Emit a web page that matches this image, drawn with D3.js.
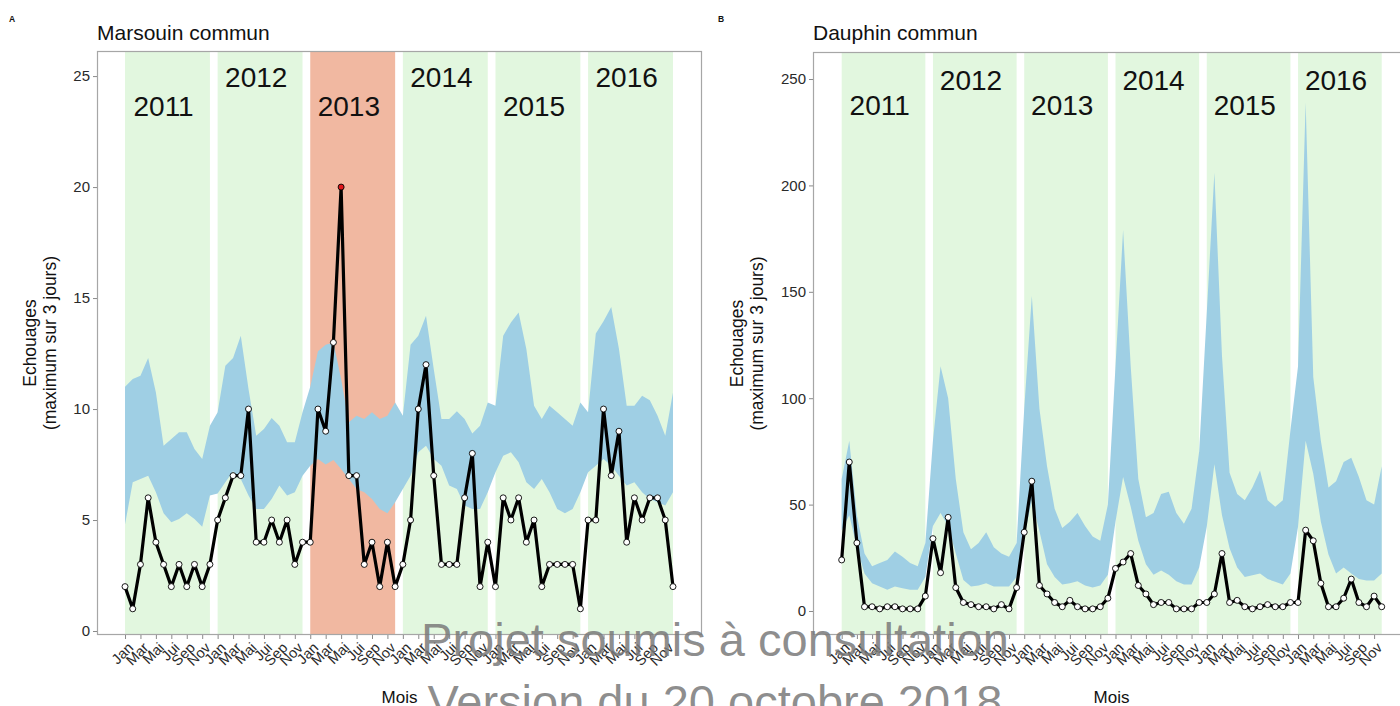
<!DOCTYPE html>
<html>
<head>
<meta charset="utf-8">
<script src="https://cdn.jsdelivr.net/npm/d3@7"></script>
<style>
  body { margin: 0; background: #fff; }
  svg { display: block; }
  text { font-family: "Liberation Sans", Arial, sans-serif; }
</style>
</head>
<body>
<svg id="chart" width="1400" height="706"></svg>
<script>
// ---------------- DATA ----------------
const years = [2011, 2012, 2013, 2014, 2015, 2016];
const tickMonthLabels = ["Jan", "Mar", "Mai", "Jui", "Sep", "Nov"];

// Panel A : Marsouin commun (monthly values Jan 2011 .. Dec 2016)
const porpoiseCounts = [
  2, 1, 3, 6, 4, 3, 2, 3, 2, 3, 2, 3,
  5, 6, 7, 7, 10, 4, 4, 5, 4, 5, 3, 4,
  4, 10, 9, 13, 20, 7, 7, 3, 4, 2, 4, 2,
  3, 5, 10, 12, 7, 3, 3, 3, 6, 8, 2, 4,
  2, 6, 5, 6, 4, 5, 2, 3, 3, 3, 3, 1,
  5, 5, 10, 7, 9, 4, 6, 5, 6, 6, 5, 2
];
const porpoiseUpper = [
  11.0, 11.35, 11.5, 12.3, 10.75, 8.35, 8.65, 8.95, 8.95, 8.2, 7.75, 9.25,
  9.85, 11.95, 12.3, 13.3, 10.9, 8.8, 9.1, 9.6, 9.25, 8.5, 8.5, 9.85,
  11.0, 12.6, 12.9, 13.0, 11.35, 9.4, 9.7, 9.55, 9.85, 9.55, 9.7, 10.3,
  9.7, 12.9, 13.3, 14.2, 11.8, 9.55, 9.55, 9.9, 9.55, 8.9, 9.25, 10.3,
  10.15, 13.3, 13.9, 14.35, 12.7, 10.15, 9.55, 10.15, 9.85, 9.55, 9.25, 10.3,
  9.85, 13.4, 13.95, 14.6, 12.7, 10.15, 10.15, 10.6, 10.4, 9.7, 8.8, 10.75
];
const porpoiseLower = [
  4.8, 6.7, 6.85, 7.0, 6.25, 5.3, 4.9, 5.05, 5.3, 5.05, 4.7, 6.1,
  6.2, 6.7, 7.2, 6.85, 6.1, 5.5, 5.5, 5.95, 6.55, 6.1, 6.25, 7.0,
  7.45, 7.75, 7.5, 7.7, 7.3, 6.85, 6.4, 6.25, 5.95, 5.5, 5.3, 5.8,
  6.4, 7.0, 8.05, 8.35, 7.75, 7.45, 6.55, 6.4, 5.65, 5.5, 5.5, 6.25,
  7.15, 7.9, 8.05, 7.6, 6.7, 6.4, 6.85, 6.25, 5.5, 5.3, 5.5, 6.25,
  7.15, 7.45, 7.75, 7.45, 7.0, 6.55, 6.7, 6.25, 5.95, 5.8, 5.65, 6.25
];
const porpoiseYTicks = [0, 5, 10, 15, 20, 25];
const porpoiseYearLabelY = [23.2, 24.5, 23.2, 24.5, 23.2, 24.5];
const porpoiseHighlightYears = [2013];
const porpoiseRedPoints = [28]; // month index of the highlighted maximum (Mai 2013)

// Panel B : Dauphin commun
const dolphinCounts = [
  24, 70, 32, 2, 2, 1, 2, 2, 1, 1, 1, 7,
  34, 18, 44, 11, 4, 3, 2, 2, 1, 3, 1, 11,
  37, 61, 12, 8, 4, 2, 5, 2, 1, 1, 2, 6,
  20, 23, 27, 12, 8, 3, 4, 4, 1, 1, 1, 4,
  4, 8, 27, 4, 5, 2, 1, 2, 3, 2, 2, 4,
  4, 38, 33, 13, 2, 2, 6, 15, 4, 2, 7, 2
];
const dolphinUpper = [
  62, 80, 45, 27, 21, 22.5, 24, 28, 25.5, 22.5, 21, 32,
  80, 115, 100, 62, 37, 29, 32, 37, 30, 27, 25.5, 32,
  95, 148, 95, 68, 48, 39, 42, 46, 40, 35, 33, 50,
  115, 179, 115, 62, 44, 46, 55, 56, 46, 41, 48, 75,
  140, 206, 120, 65, 55, 52, 58, 66, 52, 49, 52, 85,
  115, 239, 110, 80, 58, 61, 70, 72, 63, 52, 50, 68
];
const dolphinLower = [
  38, 45, 30, 17.6, 13, 11.5, 10, 11.5, 10.7, 10, 10, 16,
  40, 46, 40, 27, 14.6, 11.5, 12, 13, 11.5, 11.5, 11.5, 16,
  35, 52, 37.5, 22, 16, 12.5, 13, 14, 12, 11, 12, 17,
  42, 63, 49, 33, 22, 17, 19, 17, 14, 12.5, 12.5, 20.5,
  39.6, 69, 45, 29.5, 20.5, 16, 16.8, 17.6, 15, 13.8, 12.5, 17.6,
  39.6, 80, 64.5, 42, 26.5, 17.6, 20.5, 17.6, 15, 14.3, 14.3, 17.6
];
const dolphinYTicks = [0, 50, 100, 150, 200, 250];
const dolphinYearLabelY = [233, 245, 233, 245, 233, 245];
const dolphinHighlightYears = [];
const dolphinRedPoints = [];

const panelTitles = ["Marsouin commun", "Dauphin commun"];
const panelLetters = ["A", "B"];
const xTitle = "Mois";
const yTitleLines = ["Echouages", "(maximum sur 3 jours)"];
const watermarkLines = ["Projet soumis à consultation", "Version du 20 octobre 2018"];

// ---------------- DRAW ----------------
const svg = d3.select("#chart");
const COL = {
  green: "#e2f7df", red: "#f1b8a1", ribbon: "#9fcfe4",
  border: "#a6a6a6", tick: "#8a8a8a", text: "#2a2a2a"
};

function drawPanel(cfg, idx) {
  const g = svg.append("g");
  const xs = d3.scaleLinear().domain(cfg.xDomain).range([cfg.left, cfg.right]);
  const ys = d3.scaleLinear().domain(cfg.yDomain).range([cfg.bottom, cfg.top]);
  const n = cfg.counts.length;
  const idxs = d3.range(n);

  const clipId = "clip" + idx;
  g.append("clipPath").attr("id", clipId).append("rect")
    .attr("x", cfg.left).attr("y", cfg.top)
    .attr("width", cfg.right - cfg.left).attr("height", cfg.bottom - cfg.top);
  const plot = g.append("g").attr("clip-path", `url(#${clipId})`);

  // year bands
  plot.selectAll("rect.band").data(years).join("rect")
    .attr("class", "band")
    .attr("x", (d, i) => xs(12 * i))
    .attr("width", (d, i) => xs(12 * i + 11) - xs(12 * i))
    .attr("y", cfg.top).attr("height", cfg.bottom - cfg.top)
    .attr("fill", d => cfg.highlight.includes(d) ? COL.red : COL.green);

  // ribbon
  const area = d3.area().x(i => xs(i)).y0(i => ys(cfg.lower[i])).y1(i => ys(cfg.upper[i]));
  plot.append("path").datum(idxs).attr("d", area).attr("fill", COL.ribbon);

  // line
  const line = d3.line().x(i => xs(i)).y(i => ys(cfg.counts[i]));
  plot.append("path").datum(idxs).attr("d", line)
    .attr("fill", "none").attr("stroke", "#000").attr("stroke-width", 3.2)
    .attr("stroke-linejoin", "round");

  // points
  plot.selectAll("circle").data(idxs).join("circle")
    .attr("cx", i => xs(i)).attr("cy", i => ys(cfg.counts[i])).attr("r", 3)
    .attr("fill", i => cfg.red.includes(i) ? "#e0161b" : "#fff")
    .attr("stroke", "#000").attr("stroke-width", 0.9);

  // year labels
  plot.selectAll("text.year").data(years).join("text")
    .attr("class", "year")
    .attr("x", (d, i) => xs(12 * i + 5))
    .attr("y", (d, i) => ys(cfg.yearY[i]))
    .attr("text-anchor", "middle").attr("font-size", 28).attr("fill", "#111")
    .text(d => d);

  // border
  g.append("rect").attr("x", cfg.left + 0.5).attr("y", cfg.top + 0.5)
    .attr("width", cfg.right - cfg.left - 1).attr("height", cfg.bottom - cfg.top - 1)
    .attr("fill", "none").attr("stroke", COL.border).attr("stroke-width", 1.2);

  // y axis
  const ya = g.append("g").attr("transform", `translate(${cfg.left},0)`)
    .call(d3.axisLeft(ys).tickValues(cfg.yTicks).tickSize(4).tickPadding(3));
  ya.select(".domain").remove();
  ya.selectAll(".tick line").attr("stroke", COL.tick);
  ya.selectAll(".tick text").attr("font-size", 15).attr("fill", COL.text)
    .attr("font-family", '"Liberation Sans", Arial, sans-serif');

  // x axis
  const xa = g.append("g").attr("transform", `translate(0,${cfg.bottom})`)
    .call(d3.axisBottom(xs).tickValues(d3.range(0, n, 2))
      .tickFormat(i => tickMonthLabels[(i % 12) / 2]).tickSize(4));
  xa.select(".domain").remove();
  xa.selectAll(".tick line").attr("stroke", COL.tick);
  xa.selectAll(".tick text").attr("font-size", 14.5).attr("fill", COL.text)
    .attr("font-family", '"Liberation Sans", Arial, sans-serif')
    .attr("text-anchor", "end").attr("x", 0).attr("y", 0).attr("dy", "0.35em")
    .attr("transform", "translate(5,10) rotate(-45)");

  // titles
  g.append("text").attr("x", cfg.left).attr("y", 40).attr("font-size", 21)
    .attr("fill", "#111").text(cfg.title);
  g.append("text").attr("x", cfg.letterX).attr("y", 22).attr("font-size", 8.5)
    .attr("font-weight", "bold").attr("fill", "#111").text(cfg.letter);
  g.append("text").attr("x", (cfg.left + cfg.right) / 2).attr("y", 703)
    .attr("text-anchor", "middle").attr("font-size", 17).attr("fill", "#111").text(xTitle);
  const cy = (cfg.top + cfg.bottom) / 2;
  yTitleLines.forEach((t, k) => {
    g.append("text")
      .attr("transform", `translate(${cfg.yTitleX + k * 20},${cy}) rotate(-90)`)
      .attr("text-anchor", "middle").attr("dy", "0.35em")
      .attr("font-size", 17.5).attr("fill", "#111").text(t);
  });
}

drawPanel({
  left: 97, right: 702, top: 51, bottom: 635,
  xDomain: [-3.63, 74.76], yDomain: [-0.18, 26.13],
  counts: porpoiseCounts, upper: porpoiseUpper, lower: porpoiseLower,
  yTicks: porpoiseYTicks, yearY: porpoiseYearLabelY,
  highlight: porpoiseHighlightYears, red: porpoiseRedPoints,
  title: panelTitles[0], letter: panelLetters[0], letterX: 9, yTitleX: 30
}, 0);

drawPanel({
  left: 813, right: 1410, top: 52, bottom: 635,
  xDomain: [-3.77, 74.72], yDomain: [-11.28, 262.7],
  counts: dolphinCounts, upper: dolphinUpper, lower: dolphinLower,
  yTicks: dolphinYTicks, yearY: dolphinYearLabelY,
  highlight: dolphinHighlightYears, red: dolphinRedPoints,
  title: panelTitles[1], letter: panelLetters[1], letterX: 718, yTitleX: 737
}, 1);

// watermark
svg.append("text").attr("x", 715).attr("y", 656).attr("text-anchor", "middle")
  .attr("font-size", 47).attr("fill", "#7a7a7a").attr("fill-opacity", 0.85)
  .text(watermarkLines[0]);
svg.append("text").attr("x", 715).attr("y", 718).attr("text-anchor", "middle")
  .attr("font-size", 47).attr("fill", "#7a7a7a").attr("fill-opacity", 0.85)
  .text(watermarkLines[1]);
</script>
</body>
</html>
